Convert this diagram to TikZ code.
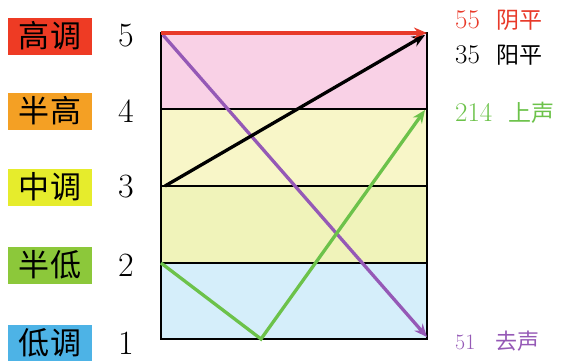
\documentclass[tikz,border=0pt]{standalone}
\usepackage{fontspec}
\newfontfamily\cjk{Noto Sans CJK SC}
\usetikzlibrary{arrows.meta}
\definecolor{cRed}{HTML}{EE3B24}
\definecolor{cOrange}{HTML}{F4A024}
\definecolor{cYellow}{HTML}{E6EC2C}
\definecolor{cGreen}{HTML}{8CC83A}
\definecolor{cBlue}{HTML}{4DB3E6}
\definecolor{bPink}{HTML}{F9D1E6}
\definecolor{bYellowA}{HTML}{F8F6C8}
\definecolor{bYellowB}{HTML}{F0F3BA}
\definecolor{bBlue}{HTML}{D5EEFA}
\definecolor{lRed}{HTML}{E83A2A}
\definecolor{lGreen}{HTML}{6CC24A}
\definecolor{lPurple}{HTML}{9559B6}
\begin{document}
\begin{tikzpicture}[x=1pt,y=-1pt,
  tagbox/.style={minimum width=84pt,minimum height=37pt,inner sep=0pt,font=\cjk\fontsize{31}{31}\selectfont,text=black},
  levelnum/.style={font=\fontsize{34}{34}\selectfont},
  tonelabel/.style={anchor=west,inner sep=0pt,font=\fontsize{27}{27}\selectfont},
  toneline/.style={line width=3.3pt,-{Stealth[length=13pt,width=11pt]}},
  band/.style={draw=black,line width=1.1pt}]
\useasboundingbox (0,0) rectangle (562,360);
% bands
\fill[bPink] (161,33) rectangle (427,109);
\fill[bYellowA] (161,109) rectangle (427,186);
\fill[bYellowB] (161,186) rectangle (427,263);
\fill[bBlue] (161,263) rectangle (427,339);
\draw[band] (161,33) rectangle (427,339);
\draw[band] (161,109) -- (427,109);
\draw[band] (161,186) -- (427,186);
\draw[band] (161,263) -- (427,263);
% left tags
\node[tagbox,fill=cRed] (t5) at (50,36) {高调};
\node[tagbox,fill=cOrange] (t4) at (50,111) {半高};
\node[tagbox,fill=cYellow] (t3) at (50,187) {中调};
\node[tagbox,fill=cGreen] (t2) at (50,265) {半低};
\node[tagbox,fill=cBlue] (t1) at (50,343) {低调};
% numbers
\node[levelnum] (n5) at (126,36) {5};
\node[levelnum] (n4) at (126,111) {4};
\node[levelnum] (n3) at (126,187) {3};
\node[levelnum] (n2) at (126,265) {2};
\node[levelnum] (n1) at (126,343) {1};
% points
\coordinate (a55s) at (161,33);
\coordinate (a55e) at (427,33);
\coordinate (a35s) at (165,186);
\coordinate (a35e) at (425,35);
\coordinate (a51s) at (163,35);
\coordinate (a51e) at (427,337);
\coordinate (a214s) at (161,263);
\coordinate (a214m) at (261,339);
\coordinate (a214e) at (425,110);
% tone lines
\draw[toneline,lPurple] (a51s) -- (a51e);
\draw[toneline,lGreen] (a214s) -- (a214m) -- (a214e);
\draw[toneline,black] (a35s) -- (a35e);
\draw[toneline,lRed] (a55s) -- (a55e);
% right labels
\node[tonelabel,text=lRed] (l55) at (455,20) {55\ \ {\cjk\fontsize{23}{23}\selectfont 阴平}};
\node[tonelabel,text=black] (l35) at (455,55) {35\ \ {\cjk\fontsize{23}{23}\selectfont 阳平}};
\node[tonelabel,text=lGreen] (l214) at (455,113) {214\ \ {\cjk\fontsize{23}{23}\selectfont 上声}};
\node[tonelabel,text=lPurple,font=\fontsize{22}{22}\selectfont] (l51) at (455,341) {51\ \ \ {\cjk 去声}};
\end{tikzpicture}
\end{document}
